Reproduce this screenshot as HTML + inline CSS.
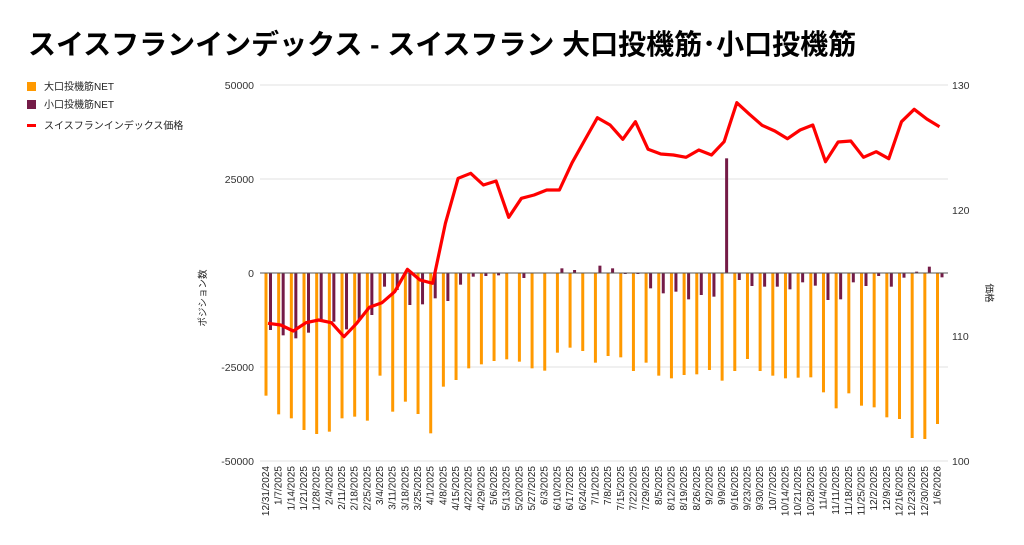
<!DOCTYPE html>
<html><head><meta charset="utf-8"><style>
body{margin:0;background:#fff;}
svg{display:block;font-family:"Liberation Sans","Noto Sans CJK JP",sans-serif;}
</style></head><body>
<svg id="s" width="1024" height="545" viewBox="0 0 1024 545">
<text x="28" y="54" font-size="28" font-weight="bold" fill="#000">スイスフランインデックス - スイスフラン 大口投機筋･小口投機筋</text>
<rect x="27" y="82" width="9" height="9" fill="#ff9900"/>
<text x="44" y="90" font-size="10" fill="#222">大口投機筋NET</text>
<rect x="27" y="100" width="9" height="9" fill="#741b47"/>
<text x="44" y="108" font-size="10" fill="#222">小口投機筋NET</text>
<rect x="27" y="124" width="9" height="3" fill="#ff0000"/>
<text x="44" y="129" font-size="10" fill="#222">スイスフランインデックス価格</text>
<g font-size="10.5" fill="#333" text-anchor="end">
<text x="254" y="89">50000</text><text x="254" y="183">25000</text><text x="254" y="277">0</text><text x="254" y="371">-25000</text><text x="254" y="465">-50000</text>
</g>
<g font-size="10.5" fill="#333">
<text x="952" y="89">130</text><text x="952" y="214">120</text><text x="952" y="340">110</text><text x="952" y="465">100</text>
</g>
<text transform="translate(206,298) rotate(-90)" font-size="9.5" fill="#222" text-anchor="middle">ポジション数</text>
<text transform="translate(986,293) rotate(90)" font-size="9.5" fill="#222" text-anchor="middle">価格</text>
<g stroke="#e0e0e0" stroke-width="1">
<line x1="260" x2="948" y1="85" y2="85"/><line x1="260" x2="948" y1="179" y2="179"/><line x1="260" x2="948" y1="367" y2="367"/><line x1="260" x2="948" y1="461" y2="461"/>
</g>
<g id="bars"></g>
<line x1="260" x2="948" y1="273" y2="273" stroke="#555" stroke-width="1"/>
<polyline id="ln" fill="none" stroke="#ff0000" stroke-width="3.2" stroke-linejoin="round"/>
<g id="xl" font-size="10" fill="#222" text-anchor="end"></g>
</svg>
<script>
var O=[947,1003,1015,1050,1062,1055,1015,1010,1022,887,995,965,1002,1060,920,900,865,853,843,838,845,865,872,818,803,813,848,828,832,873,848,887,895,885,883,870,902,873,837,873,887,895,893,892,937,985,940,977,982,1012,1017,1074,1077,1032];
var P=[750,766,775,758,720,725,748,720,705,620,630,675,673,655,663,614,590,588,586,580,594,580,580,565,570,580,557,565,582,582,625,640,635,658,645,650,235,600,618,620,620,628,607,617,660,658,607,618,588,620,593,575,560,592];
var L=[730,735,753,728,720,728,770,730,682,668,635,568,600,610,430,295,280,315,303,412,355,345,330,330,248,180,113,135,178,125,208,222,225,232,210,225,185,68,103,136,153,176,150,135,245,186,183,232,215,236,125,88,117,140];
var ns="http://www.w3.org/2000/svg",b=document.getElementById("bars"),xl=document.getElementById("xl"),pts=[];
function y(z){return 80+z/3;}
var d0=new Date(2024,11,31);
for(var i=0;i<54;i++){
 var x=266+12.67*i;
 var r=document.createElementNS(ns,"rect");var yo=y(O[i]);
 r.setAttribute("x",x-1.5);r.setAttribute("y",273);r.setAttribute("width",3);r.setAttribute("height",Math.max(0,yo-273));r.setAttribute("fill","#ff9900");b.appendChild(r);
 var yp=y(P[i]);var p=document.createElementNS(ns,"rect");
 p.setAttribute("x",x+3);p.setAttribute("width",3);p.setAttribute("y",Math.min(yp,273));p.setAttribute("height",Math.abs(yp-273));p.setAttribute("fill","#741b47");b.appendChild(p);
 pts.push((x+2).toFixed(1)+","+y(L[i]).toFixed(1));
 var d=new Date(d0.getTime()+i*7*86400000);
 var t=document.createElementNS(ns,"text");
 t.setAttribute("transform","translate("+(x+3)+",466) rotate(-90)");
 t.textContent=(d.getMonth()+1)+"/"+d.getDate()+"/"+d.getFullYear();xl.appendChild(t);
}
document.getElementById("ln").setAttribute("points",pts.join(" "));
</script>
</body></html>
